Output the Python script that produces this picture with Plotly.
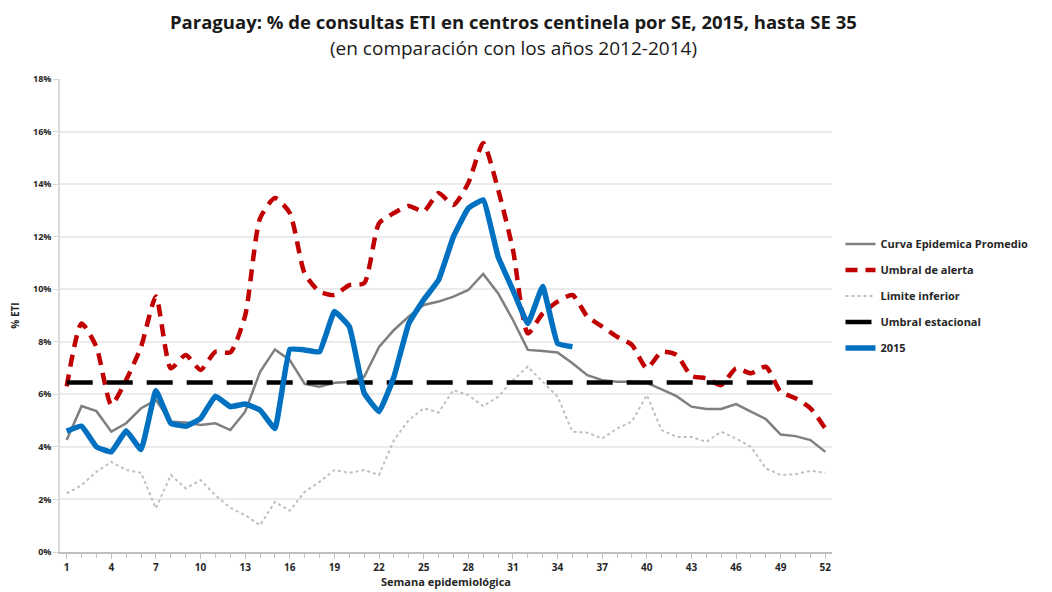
import plotly.graph_objects as go

weeks = list(range(1, 53))

curva_promedio = [4.26, 5.55, 5.36, 4.58, 4.9, 5.47, 5.78, 4.96, 4.93, 4.83,
                  4.9, 4.64, 5.34, 6.86, 7.71, 7.3, 6.4, 6.29, 6.44, 6.47,
                  6.67, 7.8, 8.45, 8.96, 9.4, 9.53, 9.72, 9.97, 10.58, 9.85,
                  8.83, 7.69, 7.65, 7.59, 7.18, 6.73, 6.54, 6.48, 6.48, 6.44,
                  6.19, 5.93, 5.53, 5.44, 5.44, 5.63, 5.34, 5.06, 4.47, 4.41,
                  4.26, 3.81]

umbral_alerta = [6.3, 8.7, 7.8, 5.6, 6.55, 7.81, 9.72, 6.99, 7.5, 6.93,
                 7.62, 7.6, 9.0, 12.7, 13.47, 12.9, 10.6, 9.91, 9.78, 10.16,
                 10.23, 12.51, 12.9, 13.17, 12.96, 13.66, 13.21, 14.04, 15.56, 13.8,
                 11.5, 8.32, 9.08, 9.53, 9.78, 8.96, 8.58, 8.19, 7.88, 6.99,
                 7.62, 7.5, 6.7, 6.61, 6.35, 6.99, 6.8, 7.05, 6.1, 5.85,
                 5.47, 4.7]

limite_inferior = [2.23, 2.54, 3.05, 3.43, 3.12, 3.01, 1.66, 2.93, 2.42, 2.74,
                   2.16, 1.68, 1.4, 1.02, 1.91, 1.57, 2.29, 2.67, 3.12, 3.01,
                   3.12, 2.93, 4.26, 5.02, 5.47, 5.31, 6.16, 5.97, 5.55, 5.91,
                   6.54, 7.05, 6.48, 5.91, 4.58, 4.54, 4.32, 4.7, 4.96, 5.97,
                   4.64, 4.38, 4.38, 4.19, 4.58, 4.32, 4.0, 3.18, 2.93, 2.96,
                   3.09, 3.01]

umbral_estacional = [6.45] * 52

weeks_2015 = list(range(1, 36))
eti_2015 = [4.6, 4.79, 4.0, 3.81, 4.61, 3.9, 6.14, 4.9, 4.79, 5.08,
            5.93, 5.53, 5.63, 5.4, 4.7, 7.71, 7.69, 7.62, 9.15, 8.58,
            6.05, 5.34, 6.67, 8.7, 9.6, 10.35, 12.0, 13.08, 13.4, 11.24,
            9.97, 8.7, 10.1, 7.94, 7.81]

tick_vals = list(range(1, 53, 3))
y_ticks = [0, 2, 4, 6, 8, 10, 12, 14, 16, 18]
y_labels = [f"{v}%" for v in y_ticks]

title_text = "Paraguay: % de consultas ETI en centros centinela por SE, 2015, hasta SE 35"
subtitle_text = "(en comparación con los años 2012-2014)"

FONT = "Open Sans"

fig = go.Figure()
fig.add_trace(go.Scatter(x=weeks, y=curva_promedio, mode="lines", name="Curva Epidemica Promedio",
                         legendgroup="a", line=dict(color="#7F7F7F", width=2.5)))
fig.add_trace(go.Scatter(x=weeks, y=umbral_alerta, mode="lines", name="Umbral de alerta",
                         legendgroup="b", line=dict(color="#C00000", width=4.5, dash="12px,8px",
                                                    shape="spline", smoothing=0.6)))
fig.add_trace(go.Scatter(x=weeks, y=limite_inferior, mode="lines", name="Limite inferior",
                         legendgroup="c", line=dict(color="#BFBFBF", width=2, dash="dot")))
fig.add_trace(go.Scatter(x=weeks, y=umbral_estacional, mode="lines", name="Umbral estacional",
                         legendgroup="d", line=dict(color="#000000", width=4.5, dash="26px,14px")))
fig.add_trace(go.Scatter(x=weeks_2015, y=eti_2015, mode="lines", name="2015",
                         legendgroup="e", line=dict(color="#0070C0", width=5.5,
                                                    shape="spline", smoothing=0.3)))

fig.add_annotation(text=f"<b>{title_text}</b>", xref="paper", yref="paper",
                   x=0.588, y=1.122, xanchor="center", yanchor="middle", showarrow=False,
                   font=dict(family=FONT, size=18.5, color="#1a1a1a"))
fig.add_annotation(text=subtitle_text, xref="paper", yref="paper",
                   x=0.588, y=1.066, xanchor="center", yanchor="middle", showarrow=False,
                   font=dict(family=FONT, size=19, color="#1a1a1a"))

fig.update_layout(
    width=1044, height=584,
    paper_bgcolor="white", plot_bgcolor="white",
    margin=dict(l=52, r=220, t=71, b=40, autoexpand=False),
    font=dict(family=FONT, color="#262626"),
    showlegend=True,
    legend=dict(
        x=1.011, xanchor="left", y=0.682, yanchor="top",
        font=dict(family=FONT, size=11, color="#262626", weight="bold"),
        tracegroupgap=7, bgcolor="rgba(0,0,0,0)",
    ),
    xaxis=dict(
        automargin=False,
        range=[0.55, 52.45], tickmode="array", tickvals=tick_vals,
        ticktext=[str(v) for v in tick_vals],
        showgrid=False, zeroline=False,
        showline=True, linecolor="#BFBFBF", linewidth=1.5,
        ticks="outside", ticklen=5, tickcolor="#BFBFBF",
        minor=dict(dtick=1, tick0=1, ticks="outside", ticklen=4, tickcolor="#BFBFBF"),
        tickfont=dict(family=FONT, size=10, color="#262626", weight="bold"),
        title=dict(text="Semana epidemiológica", standoff=4,
                   font=dict(family=FONT, size=11, color="#262626", weight="bold")),
    ),
    yaxis=dict(
        automargin=False,
        range=[0, 18], tickmode="array", tickvals=y_ticks, ticktext=y_labels,
        showgrid=True, gridcolor="#EBEBEB", gridwidth=1.5,
        zeroline=False, showline=True, linecolor="#D9D9D9", linewidth=1.5,
        ticks="outside", ticklen=5, tickcolor="#D9D9D9",
        tickfont=dict(family=FONT, size=9, color="#262626", weight="bold"),
        title=dict(text="% ETI", standoff=14,
                   font=dict(family=FONT, size=10, color="#262626", weight="bold")),
    ),
)

fig.write_html("out.html")
